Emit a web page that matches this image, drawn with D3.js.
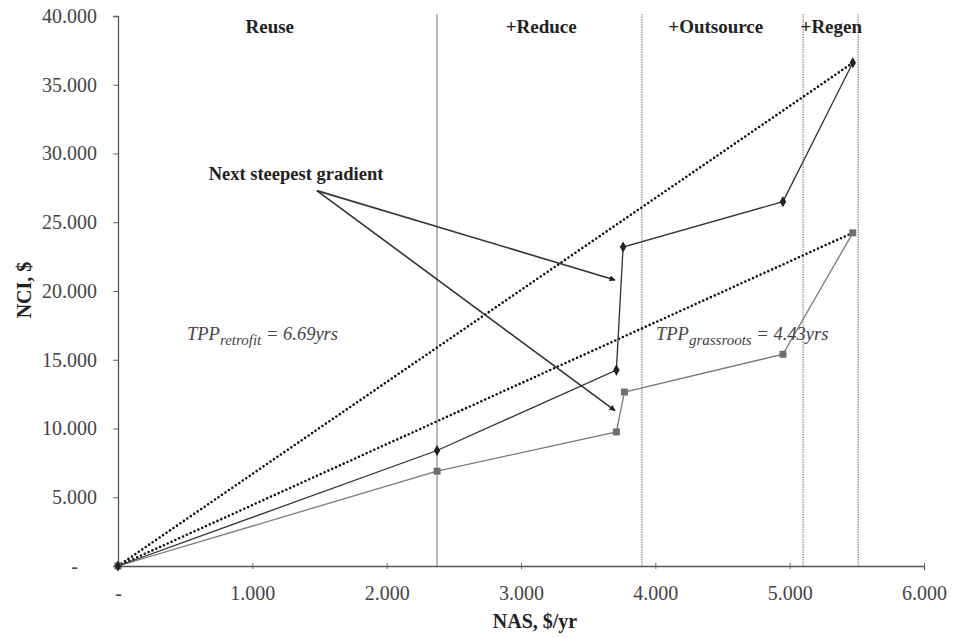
<!DOCTYPE html>
<html>
<head>
<meta charset="utf-8">
<script src="https://cdn.jsdelivr.net/npm/d3@7/dist/d3.min.js"></script>
<style>
  html, body { margin: 0; padding: 0; background: #fff; }
  svg { display: block; font-family: "Liberation Serif", "DejaVu Serif", serif; }
</style>
</head>
<body>
<svg id="chart" width="954" height="638"></svg>
<script>
// NAS ($/yr) and NCI ($) along each retrofit path
const nasRetrofit = [0, 2375, 3710, 3760, 4950, 5470];
const nciRetrofit = [0, 8400, 14250, 23200, 26500, 36600];
const nasGrassroots = [0, 2375, 3710, 3770, 4950, 5470];
const nciGrassroots = [0, 6900, 9750, 12650, 15400, 24230];

// payback slopes (NCI / NAS, yrs)
const tppValues = [6.69, 4.43];

// region boundaries and labels
const regionBounds = [2375, 3900, 5100, 5510];
const regionNames = ["Reuse", "+Reduce", "+Outsource", "+Regen"];
const regionLabelX = [1130, 3150, 4450, 5310];

// axis ticks
const xTicks = [0, 1000, 2000, 3000, 4000, 5000, 6000];
const yTicks = [0, 5000, 10000, 15000, 20000, 25000, 30000, 35000, 40000];

// annotation arrow: from the label to the two jump points
const arrowFrom = [1480, 27300];
const arrowTo = [[3700, 20800], [3700, 11300]];

const svg = d3.select("#chart");
const x = d3.scaleLinear().domain([0, 6000]).range([118, 924]);
const y = d3.scaleLinear().domain([0, 40000]).range([566, 16]);

const fmt = v => v === 0 ? "-" : d3.format(",")(v).replace(/,/g, ".");

svg.append("defs").append("marker")
  .attr("id", "arrowhead")
  .attr("viewBox", "0 0 10 10")
  .attr("refX", 9).attr("refY", 5)
  .attr("markerWidth", 9).attr("markerHeight", 6)
  .attr("markerUnits", "userSpaceOnUse")
  .attr("orient", "auto")
  .append("path").attr("d", "M0,0 L10,5 L0,10 z").attr("fill", "#222");

// region separators
svg.append("g").selectAll("line").data(regionBounds).join("line")
  .attr("x1", d => x(d)).attr("x2", d => x(d))
  .attr("y1", y(40000) - 2).attr("y2", y(0))
  .attr("stroke", "#888").attr("stroke-width", 1.2)
  .attr("stroke-dasharray", (d, i) => i === 0 ? null : "1.5,1");

svg.append("g").selectAll("text").data(regionNames).join("text")
  .attr("x", (d, i) => x(regionLabelX[i])).attr("y", 33)
  .attr("text-anchor", "middle").attr("font-weight", "bold")
  .attr("font-size", 19).attr("fill", "#222")
  .text(d => d);

// axes
const xAxis = svg.append("g").attr("transform", `translate(0,${y(0)})`)
  .call(d3.axisBottom(x).tickValues(xTicks).tickFormat(fmt).tickSize(4).tickPadding(16));
const yAxis = svg.append("g").attr("transform", `translate(${x(0)},0)`)
  .call(d3.axisLeft(y).tickValues(yTicks).tickFormat(fmt).tickSize(5).tickPadding(16));
[xAxis, yAxis].forEach(g => {
  g.select(".domain").attr("stroke", "#555").attr("stroke-width", 1.3);
  g.selectAll(".tick line").attr("stroke", "#666");
  g.selectAll(".tick text").attr("font-family", "Liberation Serif").attr("font-size", 20).attr("fill", "#444");
});
xAxis.selectAll(".tick line").attr("y1", -3).attr("y2", 3);
// accounting-style zero sits left of the value column
yAxis.selectAll(".tick text").filter(d => d === 0).attr("x", -40);

svg.append("text").attr("x", 535).attr("y", 628).attr("text-anchor", "middle")
  .attr("font-weight", "bold").attr("font-size", 20).attr("fill", "#222").text("NAS, $/yr");
svg.append("text").attr("transform", "translate(31,290) rotate(-90)").attr("text-anchor", "middle")
  .attr("font-weight", "bold").attr("font-size", 20).attr("fill", "#222").text("NCI, $");

// payback lines from origin to the end of each path
const ends = [[nasRetrofit, nciRetrofit], [nasGrassroots, nciGrassroots]];
svg.append("g").selectAll("line").data(ends).join("line")
  .attr("x1", x(0)).attr("y1", y(0))
  .attr("x2", d => x(d[0][d[0].length - 1]))
  .attr("y2", (d, i) => y(tppValues[i] * d[0][d[0].length - 1]))
  .attr("stroke", "#111").attr("stroke-width", 2.6)
  .attr("stroke-linecap", "round").attr("stroke-dasharray", "0,4.2");

const line = d3.line().x(d => x(d[0])).y(d => y(d[1]));
const retro = nasRetrofit.map((v, i) => [v, nciRetrofit[i]]);
const grass = nasGrassroots.map((v, i) => [v, nciGrassroots[i]]);

svg.append("path").datum(grass).attr("d", line)
  .attr("fill", "none").attr("stroke", "#7a7a7a").attr("stroke-width", 1.3);
svg.append("path").datum(retro).attr("d", line)
  .attr("fill", "none").attr("stroke", "#333").attr("stroke-width", 1.3);

svg.append("g").selectAll("rect").data(grass).join("rect")
  .attr("x", d => x(d[0]) - 3.5).attr("y", d => y(d[1]) - 3.5)
  .attr("width", 7).attr("height", 7).attr("fill", "#6f6f6f");
svg.append("g").selectAll("path").data(retro).join("path")
  .attr("d", d3.symbol(d3.symbolDiamond, 36))
  .attr("transform", d => `translate(${x(d[0])},${y(d[1])})`)
  .attr("fill", "#222");

// "Next steepest gradient" annotation
svg.append("text").attr("x", 296).attr("y", 180).attr("text-anchor", "middle")
  .attr("font-weight", "bold").attr("font-size", 18.5).attr("fill", "#222")
  .text("Next steepest gradient");
svg.append("g").selectAll("line").data(arrowTo).join("line")
  .attr("x1", x(arrowFrom[0])).attr("y1", y(arrowFrom[1]))
  .attr("x2", d => x(d[0])).attr("y2", d => y(d[1]))
  .attr("stroke", "#333").attr("stroke-width", 1.6)
  .attr("marker-end", "url(#arrowhead)");

// payback labels
function tppLabel(px, py, sub, val) {
  const t = svg.append("text").attr("x", px).attr("y", py)
    .attr("font-style", "italic").attr("font-size", 18.5).attr("fill", "#444");
  t.append("tspan").text("TPP");
  t.append("tspan").attr("font-size", 15).attr("dy", 5).text(sub);
  t.append("tspan").attr("dy", -5).text(" = " + val + "yrs");
}
tppLabel(187, 340, "retrofit", tppValues[0].toFixed(2));
tppLabel(656, 340, "grassroots", tppValues[1].toFixed(2));
</script>
</body>
</html>
